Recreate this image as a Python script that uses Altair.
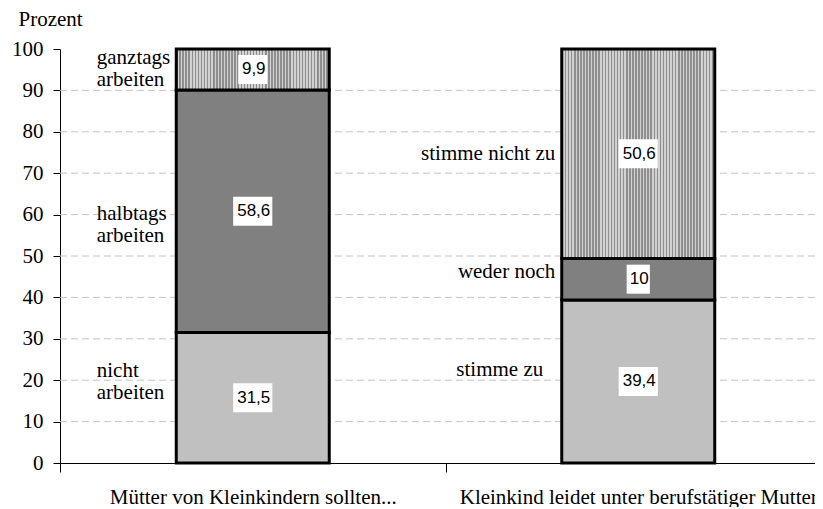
import altair as alt
import pandas as pd

categories = ["Mütter von Kleinkindern sollten...", "Kleinkind leidet unter berufstätiger Mutter"]
seg_names_1 = ["nicht\narbeiten", "halbtags\narbeiten", "ganztags\narbeiten"]
seg_values_1 = [31.5, 58.6, 9.9]
seg_names_2 = ["stimme zu", "weder noch", "stimme nicht zu"]
seg_values_2 = [39.4, 10, 50.6]
value_labels_1 = ["31,5", "58,6", "9,9"]
value_labels_2 = ["39,4", "10", "50,6"]
grid_values = [10, 20, 30, 40, 50, 60, 70, 80, 90]

rows = []
for cat, names, vals, labs in [
    (categories[0], seg_names_1, seg_values_1, value_labels_1),
    (categories[1], seg_names_2, seg_values_2, value_labels_2),
]:
    y0 = 0.0
    for lvl, (n, v, l) in enumerate(zip(names, vals, labs)):
        rows.append(dict(cat=cat, name=n, lab=l, level=lvl, y0=y0, y1=y0 + v, mid=y0 + v / 2))
        y0 += v
df = pd.DataFrame(rows)
grid_df = pd.DataFrame({"g": grid_values})

SERIF = "Liberation Serif"
FS = 21

# box shapes for the white label backgrounds (width depends on label length)
all_labels = value_labels_1 + value_labels_2
half_w = {2: 0.8, 3: 1.0, 4: 1.35}
shape_range = [f"M-{half_w[len(l)]},-1H{half_w[len(l)]}V1H-{half_w[len(l)]}Z" for l in all_labels]

PLOT_W = 755
BAND_RANGE = 771

yscale = alt.Scale(domain=[0, 100], nice=False)
yaxis = alt.Axis(
    values=list(range(0, 101, 10)), grid=False, title="Prozent", titleAngle=0,
    titleX=-42, titleY=-24, titleAlign="left", titleBaseline="alphabetic",
    titleFont=SERIF, titleFontSize=FS, titleFontWeight="normal", titleColor="black",
    labelFont=SERIF, labelFontSize=FS, labelColor="black", labelPadding=10,
    tickSize=7, tickColor="black", domainColor="black",
)
xaxis = alt.Axis(
    title=None, labelAngle=0, tickBand="extent", tickSize=9, tickColor="black",
    domainColor="black", labelFont=SERIF, labelFontSize=FS, labelColor="black",
    labelPadding=14, labelLimit=0, grid=False,
)
X = alt.X("cat:N", sort=categories, axis=xaxis,
          scale=alt.Scale(paddingInner=0, paddingOuter=0, range=[0, BAND_RANGE]))
def Y(field):
    return alt.Y(field, scale=yscale, axis=yaxis)

# striped gradient for the top segments
n_str = 50
stops = []
for i in range(n_str):
    a = i / n_str
    b = (i + 0.5) / n_str
    c = (i + 1) / n_str
    stops += [
        alt.GradientStop(offset=a, color="#8e8e8e"),
        alt.GradientStop(offset=b, color="#8e8e8e"),
        alt.GradientStop(offset=b, color="#d2d2d2"),
        alt.GradientStop(offset=c, color="#d2d2d2"),
    ]
stripe = alt.Gradient(gradient="linear", x1=0, x2=1, y1=0, y2=0, stops=stops)

grid = alt.Chart(grid_df).mark_rule(color="#c4c4c4", strokeDash=[7, 4], strokeWidth=1).encode(
    y=Y("g:Q"),
    x=alt.value(0),
    x2=alt.value(BAND_RANGE),
)

base = alt.Chart(df)

def bar_layer(lvl, fill):
    return base.transform_filter(alt.datum.level == lvl).mark_bar(
        width=153, fill=fill, stroke="black", strokeWidth=3, opacity=1
    ).encode(x=X, y=Y("y0:Q"), y2="y1:Q")

bars0 = bar_layer(0, "#c0c0c0")
bars1 = bar_layer(1, "#808080")
bars2 = bar_layer(2, stripe)

boxes = base.mark_point(filled=True, fill="white", opacity=1, strokeWidth=0, size=841).encode(
    x=X,
    y=Y("mid:Q"),
    shape=alt.Shape("lab:N", scale=alt.Scale(domain=all_labels, range=shape_range), legend=None),
)

values = base.mark_text(font="Liberation Sans", fontSize=17, color="black", baseline="middle", dx=1).encode(
    x=X, y=Y("mid:Q"), text="lab:N",
)

# label placement nudges (pixels) relative to segment middle
label_style = {
    "nicht\narbeiten": dict(align="left", dx=-156, dy=-27),
    "halbtags\narbeiten": dict(align="left", dx=-156, dy=3),
    "ganztags\narbeiten": dict(align="left", dx=-156, dy=-11),
    "stimme zu": dict(align="right", dx=-95, dy=-11),
    "weder noch": dict(align="right", dx=-83, dy=-7),
    "stimme nicht zu": dict(align="right", dx=-83, dy=0),
}
name_layers = []
for nm, st in label_style.items():
    name_layers.append(
        base.transform_filter(alt.datum.name == nm).mark_text(
            font=SERIF, fontSize=FS, color="black", baseline="middle",
            lineBreak="\n", lineHeight=22, **st,
        ).encode(x=X, y=Y("mid:Q"), text="name:N")
    )

chart = alt.layer(grid, bars0, bars1, bars2, boxes, values, *name_layers).properties(
    width=PLOT_W, height=414,
    autosize=alt.AutoSizeParams(type="none"),
    padding={"left": 52, "top": 41, "right": 0, "bottom": 44},
).configure_view(stroke=None)

chart.save("out.html", embed_options={"renderer": "svg", "actions": False})
